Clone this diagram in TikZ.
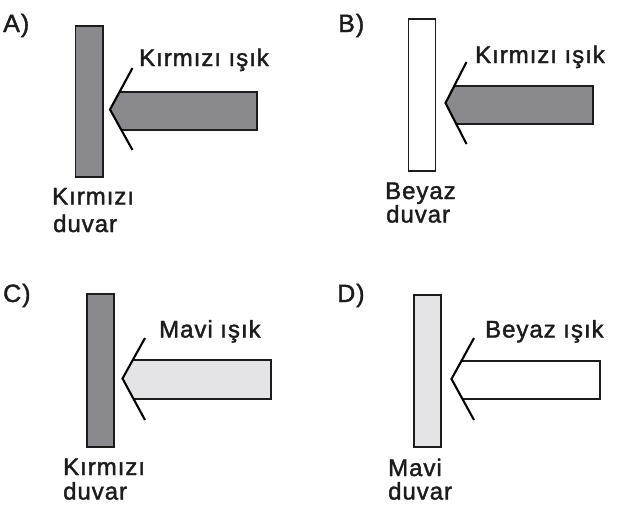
\documentclass[tikz,border=0pt]{standalone}
\usepackage{fontspec}
\setmainfont{Liberation Sans}[LetterSpace=4,FakeBold=1.6]
\definecolor{paintgray}{RGB}{138,138,142}
\definecolor{paintlight}{RGB}{228,228,230}
\definecolor{inkcol}{RGB}{28,28,28}
\tikzset{
  wallbox/.style={draw=inkcol, line width=1.8pt},
  beamedge/.style={draw=inkcol, line width=1.8pt, line join=miter},
  barbline/.style={draw=black, line width=2.1pt, line join=miter},
  lbl/.style={anchor=base west, inner sep=0pt, text=inkcol, font=\fontsize{24}{28}\selectfont},
  panel/.style={anchor=base west, inner sep=0pt, text=inkcol, font=\fontsize{25}{28}\selectfont},
}
% light beam: tip x, tip y, body top, body bottom, body right end,
% barb x, upper barb y, lower barb y, fill colour
\newcommand\lightbeam[9]{%
  \pgfmathsetmacro\joinA{#1+(#6-#1)*(#2-#3)/(#2-#7)}%
  \pgfmathsetmacro\joinB{#1+(#6-#1)*(#4-#2)/(#8-#2)}%
  \fill[#9] (\joinA,#3) -- (#5,#3) -- (#5,#4) -- (\joinB,#4) -- (#1,#2) -- cycle;
  \draw[beamedge] (\joinA,#3) -- (#5,#3) -- (#5,#4) -- (\joinB,#4);
  \draw[barbline] (#6,#7) -- (#1,#2) -- (#6,#8);
}
\begin{document}
\begin{tikzpicture}[x=1pt,y=-1pt]
\useasboundingbox (0,0) rectangle (617,504);
\fill[white] (0,0) rectangle (617,504);

% ---- A: red wall, red light
\node[panel] (pa) at (3,32) {A)};
\draw[wallbox, fill=paintgray] (75.5,26) rectangle (103,177);
\lightbeam{110}{109.5}{92}{130}{257}{132.5}{68}{150}{paintgray}
\node[lbl] (la) at (139,66) {Kırmızı ışık};
\node[lbl] (wa1) at (52,204.5) {Kırmızı};
\node[lbl] (wa2) at (53,232) {duvar};

% ---- B: white wall, red light
\node[panel] (pb) at (338,32) {B)};
\draw[wallbox, fill=white] (408.5,19) rectangle (435.5,171);
\lightbeam{445.5}{103}{86}{124}{593}{466.5}{62}{144}{paintgray}
\node[lbl] (lb) at (475,63) {Kırmızı ışık};
\node[lbl] (wb1) at (385,199) {Beyaz};
\node[lbl] (wb2) at (386,222.5) {duvar};

% ---- C: red wall, blue light
\node[panel] (pc) at (3,302) {C)};
\draw[wallbox, fill=paintgray] (87,294) rectangle (114,447);
\lightbeam{122.5}{378.5}{360}{399}{271}{145}{338}{420}{paintlight}
\node[lbl] (lc) at (159,337.5) {Mavi ışık};
\node[lbl] (wc1) at (63,475) {Kırmızı};
\node[lbl] (wc2) at (63,499.5) {duvar};

% ---- D: blue wall, white light
\node[panel] (pd) at (337,302) {D)};
\draw[wallbox, fill=paintlight] (414,295) rectangle (441,447);
\lightbeam{451.5}{379}{361}{399}{600}{474}{338}{420}{white}
\node[lbl] (ld) at (485,337.5) {Beyaz ışık};
\node[lbl] (wd1) at (388,476) {Mavi};
\node[lbl] (wd2) at (388,499.5) {duvar};
\end{tikzpicture}
\end{document}
